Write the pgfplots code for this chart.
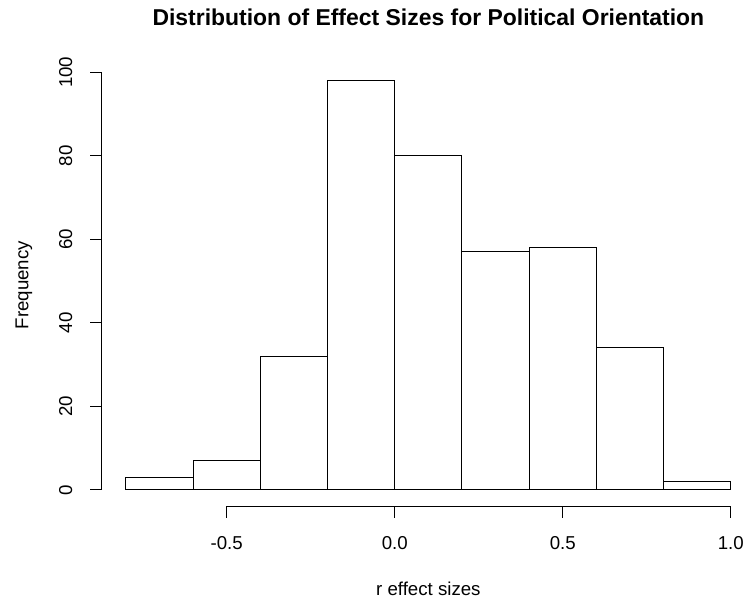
\documentclass[border=0pt]{standalone}
\usepackage{pgfplots}
\pgfplotsset{compat=1.18}
\usepackage{fontspec}
\setmainfont{Liberation Sans}
\begin{document}
\begin{tikzpicture}
\begin{axis}[
  scale only axis,
  width=490pt, height=331.5pt,
  xmin=-0.872, xmax=1.072, ymin=-3.92, ymax=101.92,
  axis x line*=bottom, axis y line*=left,
  axis line style={draw=none},
  tick align=outside,
  major tick length=8.5pt,
  tick style={black, line width=0.75pt},
  xtick={-0.5,0,0.5,1},
  xticklabels={-0.5,0.0,0.5,1.0},
  ytick={0,20,40,60,80,100},
  yticklabels={0,20,40,60,80,100},
  ticklabel style={font=\fontsize{14}{16}\selectfont},
  xticklabel style={anchor=center, yshift=-19.25pt},
  yticklabel style={rotate=90, anchor=center, yshift=18.5pt},
  title={Distribution of Effect Sizes for Political Orientation},
  title style={at={(axis description cs:0.5,1.087)}, anchor=center, font=\bfseries\fontsize{17.2}{19}\selectfont},
  xlabel={r effect sizes},
  xlabel style={at={(axis description cs:0.5,-0.187)}, anchor=center, font=\fontsize{14}{16}\selectfont},
  ylabel={Frequency},
  ylabel style={at={(axis description cs:-0.119,0.5)}, anchor=center, font=\fontsize{14}{16}\selectfont},
  clip=false,
]
\addplot[ybar interval, fill=white, draw=black, line width=0.75pt] coordinates {
  (-0.8,3) (-0.6,7) (-0.4,32) (-0.2,98) (0.0,80) (0.2,57) (0.4,58) (0.6,34) (0.8,2) (1.0,2)
};
\draw[black, line width=0.75pt] (axis cs:-0.5,-3.92) -- (axis cs:1.0,-3.92);
\draw[black, line width=0.75pt] (axis cs:-0.872,0) -- (axis cs:-0.872,100);
\end{axis}
\pgfresetboundingbox
\useasboundingbox (-76.3pt,-69.5pt) rectangle (482.5pt,379.7pt);
\end{tikzpicture}
\end{document}
